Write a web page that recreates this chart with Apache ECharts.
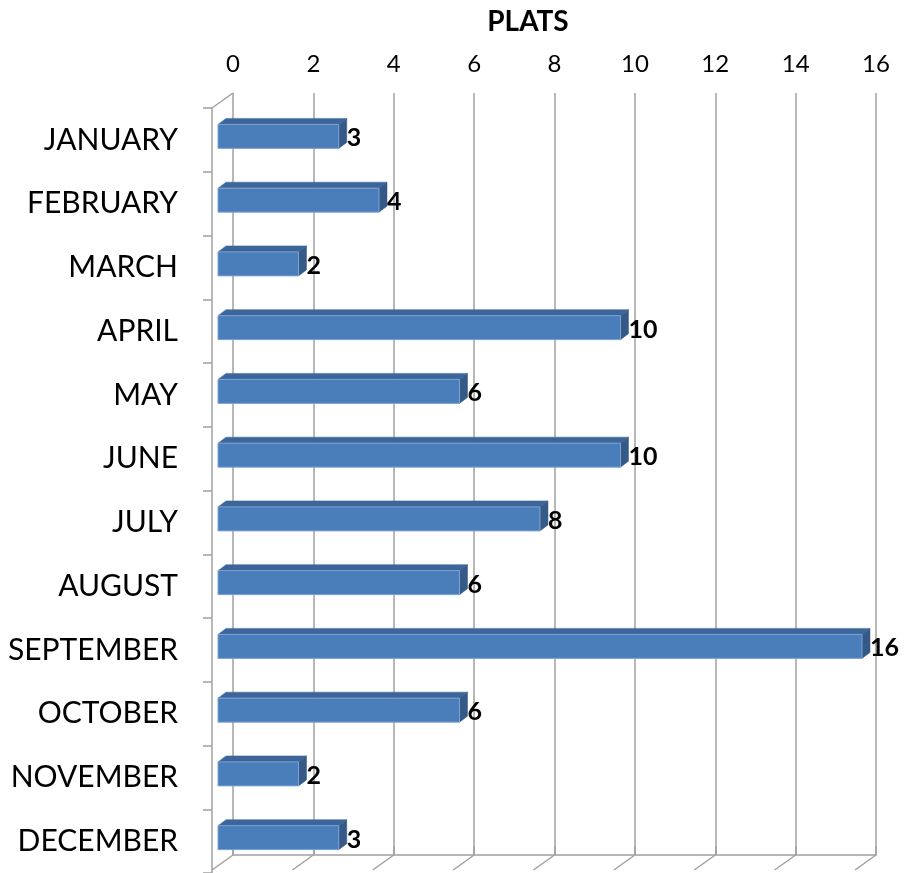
<!DOCTYPE html>
<html>
<head>
<meta charset="utf-8">
<script src="https://cdn.jsdelivr.net/npm/echarts@6/dist/echarts.min.js"></script>
<style>
html,body{margin:0;padding:0;background:#fff;}
#chart{width:907px;height:873px;}
</style>
</head>
<body>
<div id="chart"></div>
<script>
const months = ['JANUARY','FEBRUARY','MARCH','APRIL','MAY','JUNE','JULY','AUGUST','SEPTEMBER','OCTOBER','NOVEMBER','DECEMBER'];
const plats = [3,4,2,10,6,10,8,6,16,6,2,3];
const xTicks = [0,2,4,6,8,10,12,14,16];
const titleText = 'PLATS';

const FONT = 'Lato';
const DEPTH_X = 8, DEPTH_Y = 6, BAR_H = 24, BAR_SHIFT = -3.5;
const FLOOR_DX = -21, FLOOR_DY = 15;
const GRID_COLOR = '#a0a0a0';

const chart = echarts.init(document.getElementById('chart'), null, {renderer:'canvas'});

const barData = plats.map((v,i)=>[v,i]);
const floorData = xTicks.map(v=>[v,0,0]).concat([[0,1,1]]);

const option = {
  animation:false,
  backgroundColor:'#fff',
  title:{
    text:titleText, left:523, top:3, textAlign:'center',
    textStyle:{fontFamily:FONT, fontWeight:'bold', fontSize:28, color:'#000'}
  },
  grid:[
    {left:233, top:93, width:643, height:762, containLabel:false},
    {left:218, top:108, width:644, height:765, containLabel:false}
  ],
  xAxis:[
    {gridIndex:0, type:'value', position:'top', min:0, max:16, interval:2,
     axisLine:{show:true, lineStyle:{color:GRID_COLOR, width:1.5}},
     axisTick:{show:true, length:9, lineStyle:{color:GRID_COLOR, width:1.5}},
     axisLabel:{fontFamily:FONT, fontSize:24, color:'#000', margin:17},
     splitLine:{show:true, lineStyle:{color:GRID_COLOR, width:1.5}}},
    {gridIndex:1, type:'value', min:0, max:16, show:false}
  ],
  yAxis:[
    {gridIndex:0, type:'value', min:0, max:1, show:false},
    {gridIndex:1, type:'category', data:months, inverse:true, offset:6,
     axisLine:{show:true, onZero:false, lineStyle:{color:GRID_COLOR, width:1.5}},
     axisTick:{show:true, length:9, lineStyle:{color:GRID_COLOR, width:1.5}},
     axisLabel:{fontFamily:FONT, fontSize:30, color:'#000', margin:34, padding:[5,0,0,0]},
     splitLine:{show:false}}
  ],
  series:[
    {
      type:'custom', xAxisIndex:0, yAxisIndex:0, data:floorData, silent:true, z:1,
      renderItem:function(params, api){
        const p = api.coord([api.value(0), api.value(1)]);
        return {type:'line', shape:{x1:p[0], y1:p[1], x2:p[0]+FLOOR_DX, y2:p[1]+FLOOR_DY},
                style:{stroke:GRID_COLOR, lineWidth:1.5}};
      }
    },
    {
      type:'custom', xAxisIndex:1, yAxisIndex:1, data:barData, z:5,
      renderItem:function(params, api){
        const v = api.value(0), c = api.value(1);
        const s = api.coord([0, c]);
        const e = api.coord([v, c]);
        const cy = s[1] + BAR_SHIFT;
        const yt = cy - BAR_H/2, yb = cy + BAR_H/2;
        const x0 = s[0], x1 = e[0];
        return {type:'group', children:[
          {type:'polygon', shape:{points:[[x0,yt],[x1,yt],[x1+DEPTH_X,yt-DEPTH_Y],[x0+DEPTH_X,yt-DEPTH_Y]]},
           style:{fill:'#3c6699', stroke:'#3c6699', lineWidth:0.5}},
          {type:'polygon', shape:{points:[[x1,yt],[x1+DEPTH_X,yt-DEPTH_Y],[x1+DEPTH_X,yb-DEPTH_Y],[x1,yb]]},
           style:{fill:'#355a88', stroke:'#355a88', lineWidth:0.5}},
          {type:'rect', shape:{x:x0, y:yt, width:x1-x0, height:BAR_H},
           style:{fill:'#4a7ebb', stroke:'#7ea2d2', lineWidth:1}},
          {type:'text', x:x1+DEPTH_X, y:cy+2,
           style:{text:String(v), fontFamily:FONT, fontWeight:'bold', fontSize:25, fill:'#000',
                  align:'left', verticalAlign:'middle'}}
        ]};
      }
    }
  ]
};
chart.setOption(option);
</script>
</body>
</html>
